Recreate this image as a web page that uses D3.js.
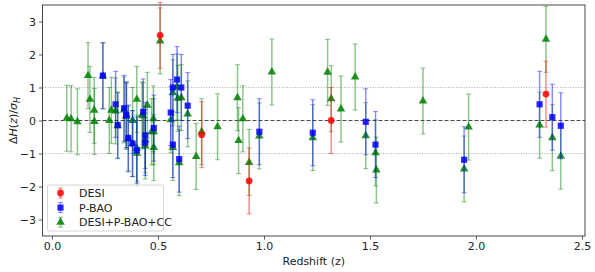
<!DOCTYPE html>
<html>
<head>
<meta charset="utf-8">
<script src="https://cdn.jsdelivr.net/npm/d3@7"></script>
<style>
  body { margin: 0; background: #fff; }
  svg { font-family: "DejaVu Sans", sans-serif; }
</style>
</head>
<body>
<svg id="chart" width="595" height="272"></svg>
<script>
// DESI points (z, dH/sigma)
const desiZ = [0.51, 0.706, 0.93, 1.317, 2.33];
const desiV = [2.58, -0.43, -1.83, 0.0, 0.80];

// previous BAO
const pbaoZ = [0.24, 0.30, 0.31, 0.34, 0.35, 0.36, 0.38, 0.40, 0.43, 0.44, 0.44, 0.48,
               0.56, 0.57, 0.57, 0.59, 0.60, 0.61, 0.64, 0.978, 1.23, 1.48, 1.526, 1.944,
               2.30, 2.36, 2.40];
const pbaoV = [1.36, 0.49, -0.14, 0.37, 0.17, -0.53, -0.70, -0.90, 0.26, -0.45, -0.67, -0.23,
               0.24, 1.00, -0.73, 1.24, -1.17, 1.00, 0.45, -0.34, -0.37, -0.04, -0.73, -1.19,
               0.49, 0.10, -0.16];

// combined DESI+P-BAO+CC
const combZ = [0.07, 0.09, 0.12, 0.17, 0.179, 0.199, 0.20, 0.27, 0.28, 0.352, 0.3802, 0.40,
               0.4004, 0.4247, 0.4497, 0.47, 0.4783, 0.48, 0.593, 0.68, 0.781, 0.875, 0.88, 0.90,
               1.037, 1.30, 1.363, 1.43, 1.53, 1.75, 1.965,
               0.24, 0.30, 0.31, 0.34, 0.35, 0.36, 0.38, 0.40, 0.43, 0.44, 0.44, 0.48,
               0.56, 0.57, 0.57, 0.59, 0.60, 0.61, 0.64, 0.978, 1.23, 1.48, 1.526, 1.944,
               2.30, 2.36, 2.40,
               0.51, 0.706, 0.93, 1.317, 2.33];
const combV = [0.07, 0.05, -0.04, 1.36, 0.64, 0.31, -0.03, 0.0, 0.31, 0.17, 0.0, 0.64,
               -0.99, 0.17, 0.46, -0.34, 0.05, -0.82, 0.67, -1.09, -0.19, 0.69, -0.61, 0.05,
               1.47, 1.46, 0.35, 1.32, -1.50, 0.59, -0.20,
               1.35, 0.29, -0.16, 0.32, 0.12, -0.56, -0.70, -0.84, 0.14, -0.59, -0.77, -0.34,
               0.02, 0.84, -0.82, 1.02, -1.28, 0.69, 0.20, -0.47, -0.52, -0.46, -0.98, -1.47,
               -0.14, -0.52, -1.08,
               2.41, -0.34, -1.27, 0.66, 2.46];
const errBar = 1; // every point is +-1 sigma

const xTicks = [0.0, 0.5, 1.0, 1.5, 2.0, 2.5];
const yTicks = [-3, -2, -1, 0, 1, 2, 3];

const svg = d3.select("#chart");
const pl = 42.5, pr = 585, pt = 5, pb = 236;

const x = d3.scaleLinear().domain([-9.5 / 212, 533 / 212]).range([pl, pr]);
const y = d3.scaleLinear().domain([-3.5, 3.5]).range([pb, pt]);

// reference lines
svg.append("line")
  .attr("x1", pl).attr("x2", pr).attr("y1", y(0)).attr("y2", y(0))
  .attr("stroke", "#000").attr("stroke-opacity", 0.7)
  .attr("stroke-width", 1.1).attr("stroke-dasharray", "4,2");
[1, -1].forEach(v => {
  svg.append("line")
    .attr("x1", pl).attr("x2", pr).attr("y1", y(v)).attr("y2", y(v))
    .attr("stroke", "#808080").attr("stroke-opacity", 0.7)
    .attr("stroke-width", 0.9).attr("stroke-dasharray", "1,1.6");
});

const symSize = s => s === d3.symbolTriangle ? 32 : s === d3.symbolSquare ? 38 : 36;

function series(zs, vs, color, shape) {
  const data = zs.map((z, i) => [z, vs[i]]);
  const g = svg.append("g");
  const bars = g.append("g")
    .attr("stroke", color).attr("stroke-opacity", 0.45).attr("stroke-width", 1.5);
  data.forEach(d => {
    const cx = x(d[0]);
    bars.append("line").attr("x1", cx).attr("x2", cx)
      .attr("y1", y(d[1] - errBar)).attr("y2", y(d[1] + errBar));
    [d[1] - errBar, d[1] + errBar].forEach(e => {
      bars.append("line").attr("x1", cx - 2.5).attr("x2", cx + 2.5)
        .attr("y1", y(e)).attr("y2", y(e)).attr("stroke-width", 1);
    });
  });
  g.append("g")
    .selectAll("path")
    .data(data)
    .join("path")
      .attr("transform", d => `translate(${x(d[0])},${y(d[1])})`)
      .attr("d", d3.symbol().type(shape).size(symSize(shape)))
      .attr("fill", color)
      .attr("fill-opacity", 0.85);
}

series(combZ, combV, "green", d3.symbolTriangle);
series(pbaoZ, pbaoV, "blue", d3.symbolSquare);
series(desiZ, desiV, "red", d3.symbolCircle);

// frame
svg.append("rect")
  .attr("x", pl).attr("y", pt).attr("width", pr - pl).attr("height", pb - pt)
  .attr("fill", "none").attr("stroke", "#333").attr("stroke-width", 0.9);

// axes
const xAxis = svg.append("g")
  .attr("transform", `translate(0,${pb})`)
  .call(d3.axisBottom(x).tickValues(xTicks).tickFormat(d3.format(".1f")).tickSizeOuter(0).tickSize(3.5).tickPadding(3));
const yAxis = svg.append("g")
  .attr("transform", `translate(${pl},0)`)
  .call(d3.axisLeft(y).tickValues(yTicks).tickFormat(d => d < 0 ? "\u2212" + Math.abs(d) : d).tickSizeOuter(0).tickSize(3.5).tickPadding(3));
[xAxis, yAxis].forEach(a => {
  a.select(".domain").remove();
  a.selectAll("text").attr("font-size", 11).attr("fill", "#222")
    .attr("font-family", "DejaVu Sans, sans-serif");
  a.selectAll("line").attr("stroke", "#333").attr("stroke-width", 0.8);
});

svg.append("text")
  .attr("x", (pl + pr) / 2).attr("y", 265)
  .attr("text-anchor", "middle").attr("font-size", 11).attr("fill", "#222")
  .text("Redshift (z)");

const yl = svg.append("text")
  .attr("transform", `translate(17,${(pt + pb) / 2}) rotate(-90)`)
  .attr("text-anchor", "middle").attr("font-size", 11).attr("fill", "#222");
yl.append("tspan").text("\u0394");
yl.append("tspan").attr("font-style", "italic").text("H");
yl.append("tspan").text("(");
yl.append("tspan").attr("font-style", "italic").text("z");
yl.append("tspan").text(")/");
yl.append("tspan").attr("font-style", "italic").text("\u03c3");
yl.append("tspan").attr("font-style", "italic").attr("font-size", 8).attr("dy", 2.5).text("H");

// legend
const legendItems = [
  {label: "DESI", color: "red", shape: d3.symbolCircle},
  {label: "P-BAO", color: "blue", shape: d3.symbolSquare},
  {label: "DESI+P-BAO+CC", color: "green", shape: d3.symbolTriangle}
];
const lg = svg.append("g");
lg.append("rect")
  .attr("x", 47.5).attr("y", 185).attr("width", 116).attr("height", 46).attr("rx", 2)
  .attr("fill", "#fff").attr("fill-opacity", 0.8).attr("stroke", "#ccc").attr("stroke-width", 0.8);
legendItems.forEach((it, i) => {
  const cy = 193 + i * 14.6;
  const gi = lg.append("g").attr("transform", `translate(60.5,${cy})`);
  gi.append("line").attr("y1", -5).attr("y2", 5)
    .attr("stroke", it.color).attr("stroke-opacity", 0.45).attr("stroke-width", 1.5);
  [-5, 5].forEach(e => gi.append("line").attr("x1", -2.5).attr("x2", 2.5).attr("y1", e).attr("y2", e)
    .attr("stroke", it.color).attr("stroke-opacity", 0.45));
  gi.append("path")
    .attr("d", d3.symbol().type(it.shape).size(symSize(it.shape)))
    .attr("fill", it.color).attr("fill-opacity", 0.85);
  lg.append("text").attr("x", 79).attr("y", cy + 4)
    .attr("font-size", 11).attr("fill", "#222").text(it.label);
});
</script>
</body>
</html>
